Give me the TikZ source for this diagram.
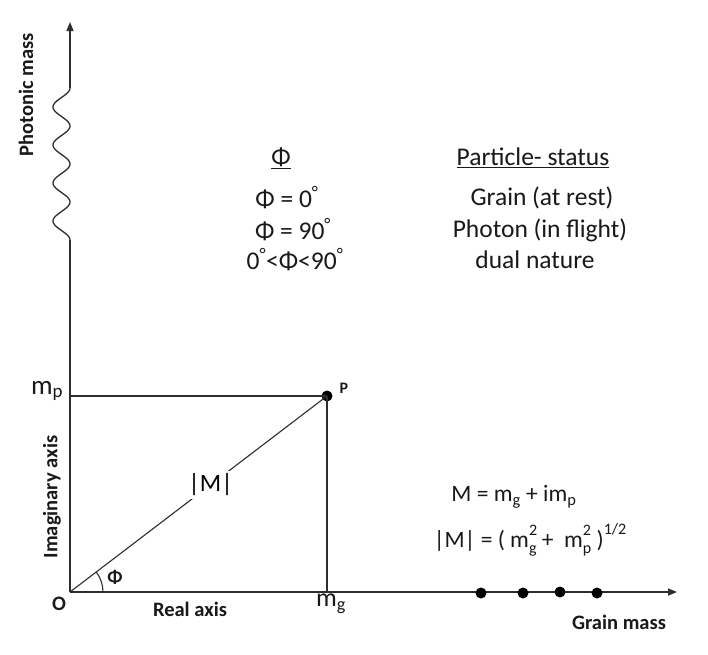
\documentclass[tikz,border=0pt]{standalone}
\usepackage{fontspec}
\setmainfont{Carlito}
\usetikzlibrary{arrows.meta}
\definecolor{lc}{RGB}{45,45,45}
\newcommand\msq[1]{m\rlap{\raisebox{0.5em}{\fontsize{16}{16}\selectfont 2}}\raisebox{-0.28em}{\fontsize{16}{16}\selectfont #1}}
\begin{document}
\begin{tikzpicture}[x=1pt,y=-1pt,
  ax/.style={line width=1.3pt, draw=lc},
  thinl/.style={line width=1.1pt, draw=lc},
  tip/.style={-{Triangle[length=9pt,width=7pt]}},
  dotp/.style={circle, fill=black, inner sep=0pt, minimum size=11pt},
  lbl/.style={inner sep=0pt, font=\fontsize{27}{30}\selectfont, text=black!90},
  axl/.style={inner sep=0pt, font=\fontsize{20.5}{23}\selectfont\bfseries, text=black!90},
  tab/.style={inner sep=0pt, font=\fontsize{25.5}{28}\selectfont, text=black!90},
  frm/.style={inner sep=0pt, font=\fontsize{23.5}{26}\selectfont, text=black!90}]
\useasboundingbox (0,0) rectangle (708,654);
\fill[white] (0,0) rectangle (708,654);
% coordinates
\coordinate (O) at (70,592);
\coordinate (ytop) at (70,22);
\coordinate (xend) at (677,592);
\coordinate (wtop) at (70,88);
\coordinate (wbot) at (70,240);
\node[dotp] (P) at (327,396) {};
% axes
\draw[ax] (O) -- (wbot);
\draw[ax, line join=round] plot[domain=88:240, samples=120, smooth] ({61.5+8.5*cos((\x-88)/38*360)}, \x);
\draw[ax, tip] (wtop) -- (ytop);
\draw[ax, tip] (O) -- (xend);
% rectangle lines
\draw[thinl] (P.center -| O) -- (P.center);
\draw[thinl] (P.center) -- (P.center |- O);
\draw[thinl] (O) -- (P.center) node[pos=0.547, fill=white, inner sep=3pt, font=\fontsize{25}{28}\selectfont] (Mlab) {|M|};
\draw[thinl] ([shift={(33,0)}]O) arc[start angle=0, end angle=-37.2, radius=33];
% dots on x-axis
\node[dotp] (d1) at (481,593) {};
\node[dotp] (d2) at (523,593) {};
\node[dotp] (d3) at (560,592) {};
\node[dotp] (d4) at (597,593) {};
% axis labels
\node[axl, rotate=90] (phm) at (26,95) {Photonic mass};
\node[axl, rotate=90] (ima) at (52,497) {Imaginary axis};
\node[axl] (rea) at (190,609) {Real axis};
\node[axl] (grm) at (619,622) {Grain mass};
\node[axl] (Ol) at (59,604) {O};
\node[axl, font=\fontsize{16}{20}\selectfont\bfseries] (Pl) at (344,388) {P};
\node[lbl, font=\fontsize{19}{22}\selectfont\bfseries] (phil) at (115,577) {Φ};
\node[lbl] (mpl) at (47,391) {m\textsubscript{p}};
\node[lbl, font=\fontsize{26}{28}\selectfont] (mgl) at (331,604) {m\textsubscript{g}};
% table
\node[tab] (h1) at (281,158) {\underline{Φ}};
\node[tab] (h2) at (533,158) {\underline{Particle- status}};
\node[tab] (r1a) at (287,198) {Φ = 0\textsuperscript{°}};
\node[tab] (r1b) at (542,198) {Grain (at rest)};
\node[tab] (r2a) at (293,230) {Φ = 90\textsuperscript{°}};
\node[tab] (r2b) at (540,230) {Photon (in flight)};
\node[tab] (r3a) at (295,260) {0\textsuperscript{°}<Φ<90\textsuperscript{°}};
\node[tab] (r3b) at (535,260) {dual nature};
% formulas
\node[frm] (f1) at (514,497) {M = m\textsubscript{g} + im\textsubscript{p}};
\node[frm] (f2) at (530,540) {|M| = ( \msq{g} +\ \ \msq{p} )\raisebox{0.55em}{\fontsize{16}{16}\selectfont 1/2}};
\end{tikzpicture}
\end{document}
